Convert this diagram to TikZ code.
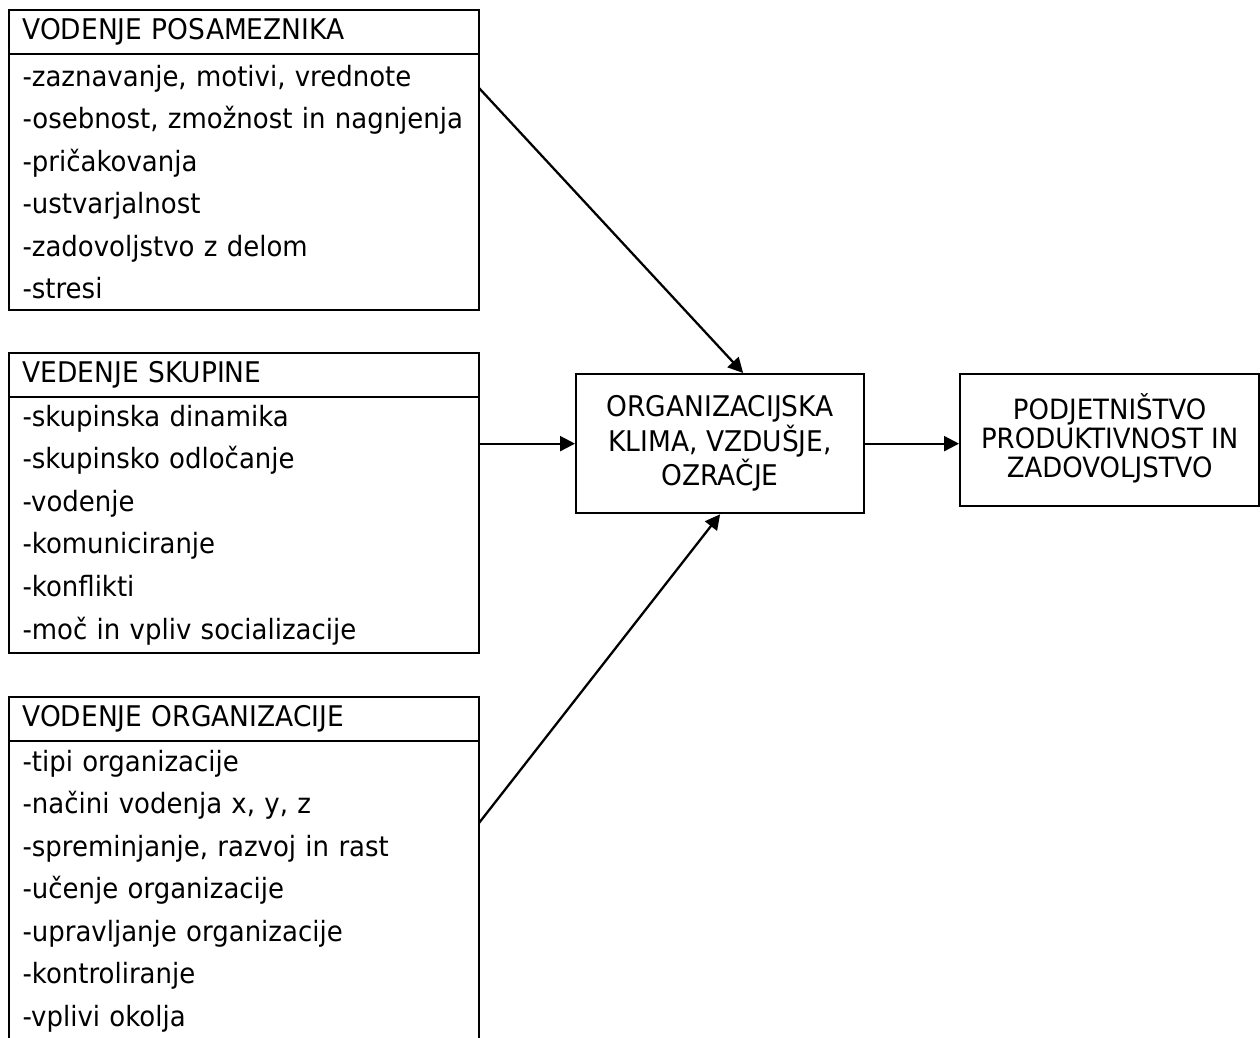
\documentclass[tikz,border=0pt]{standalone}
\usepackage{fontspec}
\setmainfont{DejaVu Sans}[FakeStretch=0.93]
\usetikzlibrary{positioning,arrows.meta}
\tikzset{
	head/.style={draw, line width=1.3pt, outer sep=0pt, anchor=north west, minimum width=9.4cm, minimum height=0.88cm, text width=8.86cm, inner xsep=0.27cm, inner ysep=0pt, align=left, font=\fontsize{16.2}{19}\selectfont},
	list/.style={draw, line width=1.3pt, outer sep=0pt, minimum width=9.4cm, text width=8.86cm, inner xsep=0.27cm, inner ysep=0pt, align=left, font=\fontsize{15.9}{24.2}\selectfont},
	block/.style={draw, line width=1.3pt, anchor=north west, align=center, inner sep=0pt},
	arr/.style={line width=1.3pt, -{Triangle[length=0.3cm, width=0.3cm]}}
}
\begin{document}
\begin{tikzpicture}
	\useasboundingbox (0 cm, 0 cm) rectangle (25.2 cm, 20.74 cm);
	\node[head] (pos head) at (0.18 cm, 20.54 cm) {VODENJE POSAMEZNIKA};
	\node[list, minimum height=5.12cm, below=0cm of pos head] (pos body) {-zaznavanje, motivi, vrednote\\-osebnost, zmožnost in nagnjenja\\-pričakovanja\\-ustvarjalnost\\-zadovoljstvo z delom\\-stresi};
	\node[head] (skup head) at (0.18 cm, 13.68 cm) {VEDENJE SKUPINE};
	\node[list, minimum height=5.12cm, below=0cm of skup head] (skup body) {-skupinska dinamika\\-skupinsko odločanje\\-vodenje\\-komuniciranje\\-konflikti\\-moč in vpliv socializacije};
	\node[head] (org head) at (0.18 cm, 6.80 cm) {VODENJE ORGANIZACIJE};
	\node[list, minimum height=6cm, below=0cm of org head] (org body) {-tipi organizacije\\-načini vodenja x, y, z\\-spreminjanje, razvoj in rast\\-učenje organizacije\\-upravljanje organizacije\\-kontroliranje\\-vplivi okolja};
	\node[block, minimum width=5.76cm, minimum height=2.78cm, font=\fontsize{16.2}{19.6}\selectfont] (klima) at (11.5 cm, 13.28 cm) {ORGANIZACIJSKA\\KLIMA, VZDUŠJE,\\OZRAČJE};
	\node[block, minimum width=5.98cm, minimum height=2.64cm, text depth=0.2cm, font=\fontsize{15.9}{16.5}\selectfont] (podj) at (19.18 cm, 13.28 cm) {PODJETNIŠTVO\\PRODUKTIVNOST IN\\ZADOVOLJSTVO};
	\draw[arr] ([yshift=-0.68cm]pos body.north east) -- ([xshift=0.46cm]klima.north);
	\draw[arr] (skup body.east |- klima.west) -- (klima.west);
	\draw[arr] ([yshift=-1.64cm]org body.north east) -- (klima.south);
	\draw[arr] (klima.east) -- (klima.east -| podj.west);
\end{tikzpicture}
\end{document}
